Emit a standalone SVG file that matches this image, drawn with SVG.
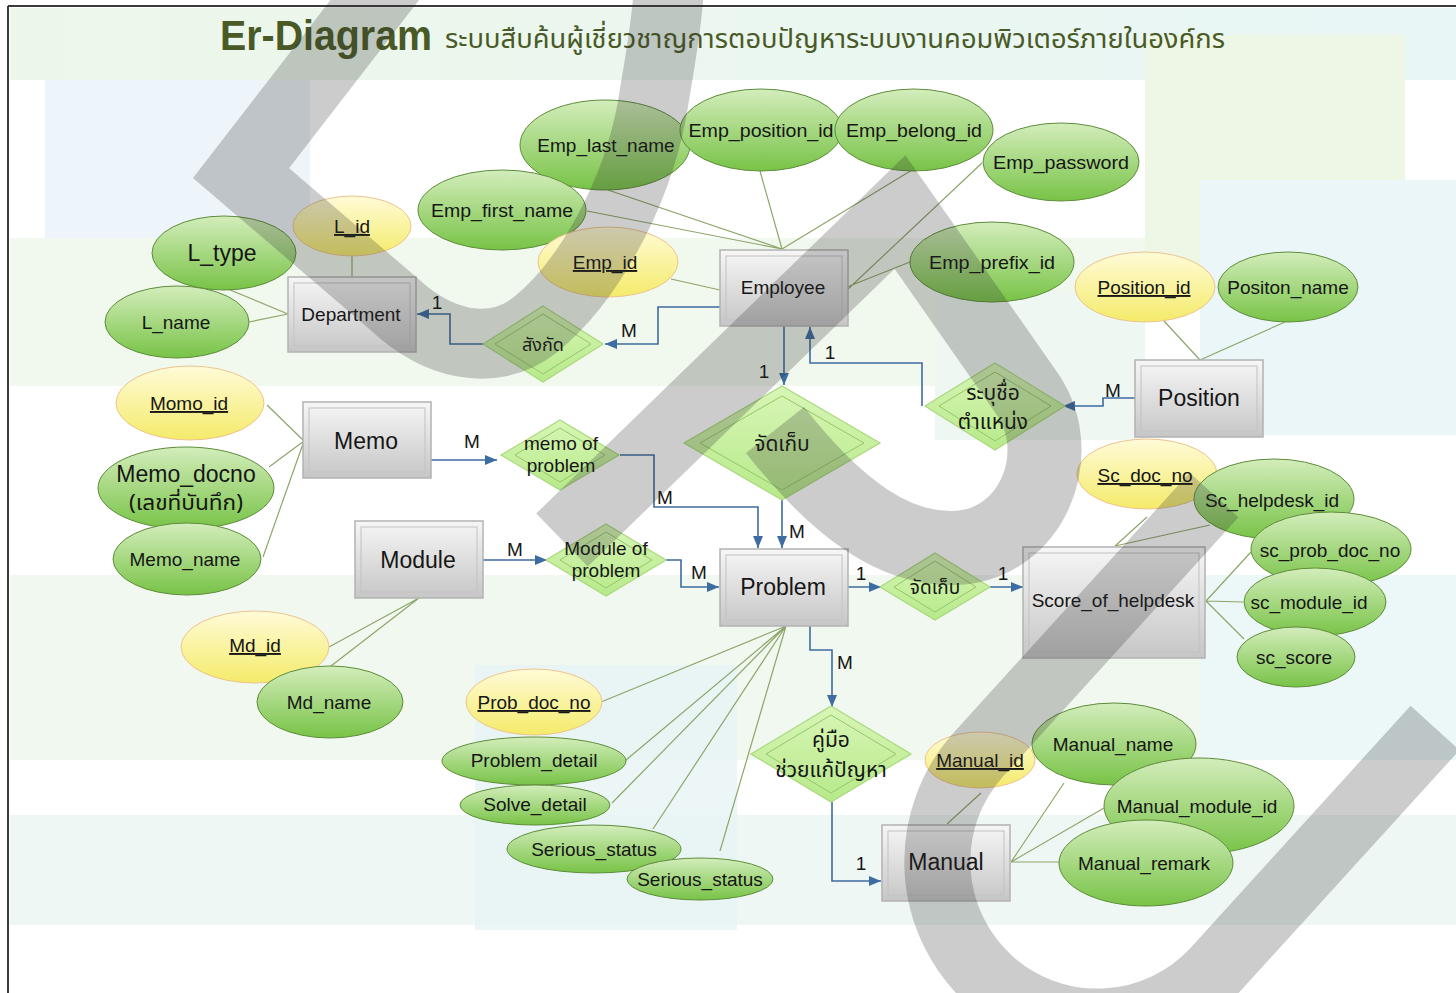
<svg xmlns="http://www.w3.org/2000/svg" width="1456" height="993" viewBox="0 0 1456 993">
  <defs>
    <linearGradient id="gEnt" x1="0" y1="0" x2="0" y2="1">
      <stop offset="0" stop-color="#f6f6f6"/>
      <stop offset="1" stop-color="#c6c6c6"/>
    </linearGradient>
    <linearGradient id="gAttr" x1="0" y1="0" x2="0" y2="1">
      <stop offset="0" stop-color="#d3edbb"/>
      <stop offset="1" stop-color="#78c347"/>
    </linearGradient>
    <linearGradient id="gKey" x1="0" y1="0" x2="0" y2="1">
      <stop offset="0" stop-color="#fffbd8"/>
      <stop offset="1" stop-color="#f4eb6a"/>
    </linearGradient>
    <linearGradient id="gRel" x1="0" y1="0" x2="0" y2="1">
      <stop offset="0" stop-color="#d8f6b6"/>
      <stop offset="1" stop-color="#b7e98a"/>
    </linearGradient>
    <linearGradient id="gTitle" x1="0" y1="0" x2="1" y2="0">
      <stop offset="0" stop-color="#edf7e9"/>
      <stop offset="1" stop-color="#e8f6f6"/>
    </linearGradient>
    <marker id="arr" viewBox="0 0 12 10" refX="12" refY="5" markerWidth="12" markerHeight="10" markerUnits="userSpaceOnUse" orient="auto">
      <path d="M0,0 L12,5 L0,10 z" fill="#3d6ca3"/>
    </marker>
  </defs>
  <style>
    .ent-o { fill: url(#gEnt); stroke: #b3b3b3; stroke-width: 1.5; }
    .ent-i { fill: none; stroke: #c2c2c2; stroke-width: 1; }
    .attr { fill: url(#gAttr); stroke: #5e8d3a; stroke-width: 1; }
    .key { fill: url(#gKey); stroke: #eec48c; stroke-width: 1; }
    .rel-o { fill: url(#gRel); stroke: #a9d97c; stroke-width: 1.2; }
    .rel-i { fill: none; stroke: #94c76a; stroke-width: 1; }
    .lnk { stroke: #8da66a; stroke-width: 1.2; fill: none; }
    .con { stroke: #3e6ba1; stroke-width: 1.6; fill: none; marker-end: url(#arr); }
    text { font-family: "Liberation Sans", Arial, sans-serif; fill: #161616; text-anchor: middle; font-size: 19px; }
    .th { font-family: "Noto Sans Thai", "Noto Sans", "DejaVu Sans", sans-serif; }
    .ts { text-anchor: start; fill: #4a5a26; }
    .t-head { font-size: 43px; font-weight: bold; }
    .t-sub { font-size: 27px; }
    .big { font-size: 23px; }
    .th18 { font-size: 18px; }
    .th21 { font-size: 21px; }
    .u { text-decoration: underline; }
    .card { font-size: 20px; }
    .bg { stroke: none; }
  </style>

  <!-- page background and faint panels -->
  <rect width="1456" height="993" fill="#ffffff"/>
  <g class="bg">
    <rect x="10" y="8" width="1446" height="72" fill="url(#gTitle)"/>
    <rect x="45" y="80" width="265" height="158" fill="#eef5fa"/>
    <rect x="1145" y="35" width="260" height="265" fill="#eef7e6"/>
    <rect x="1200" y="180" width="256" height="255" fill="#eaf6f8"/>
    <rect x="10" y="238" width="1135" height="148" fill="#f1f8ee"/>
    <rect x="935" y="290" width="210" height="150" fill="#eef7f2"/>
    <rect x="1200" y="575" width="256" height="185" fill="#ecf7f7"/>
    <rect x="10" y="575" width="1190" height="185" fill="#f0f8ef"/>
    <rect x="10" y="815" width="1446" height="110" fill="#eef7f3"/>
    <rect x="475" y="665" width="262" height="265" fill="#e7f4f5" opacity="0.8"/>
  </g>
  <path d="M8,6 H1456 M8,6 V993" stroke="#3a3a3a" stroke-width="2" fill="none"/>

  <!-- title -->
  <g id="title">
    <text class="ts t-head" x="220" y="50" textLength="212" lengthAdjust="spacingAndGlyphs">Er-Diagram</text>
    <text class="ts th t-sub" x="445" y="48" textLength="780" lengthAdjust="spacingAndGlyphs">ระบบสืบค้นผู้เชี่ยวชาญการตอบปัญหาระบบงานคอมพิวเตอร์ภายในองค์กร</text>
  </g>

  <!-- attribute links -->
  <g id="attribute-links" class="lnk">
    <path d="M352,256 V277"/>
    <path d="M223,287 L288,314 M249,322 L288,314"/>
    <path d="M608,190 L782,249 M587,211 L782,249 M760,171 L782,249 M912,170 L782,249"/>
    <path d="M982,163 L847,290 M910,262 L847,287 M671,279 L720,290"/>
    <path d="M1164,321 L1200,360 M1285,322 L1200,360"/>
    <path d="M267,405 L304,441 M269,467 L304,441 M263,557 L304,441"/>
    <path d="M329,647 L419,598 M331,666 L419,598"/>
    <path d="M601,702 L786,626 M626,760 L786,626 M612,803 L786,626 M653,829 L786,626 M720,851 L786,626"/>
    <path d="M1147,517 L1115,546 M1210,525 L1115,546"/>
    <path d="M1251,552 L1206,601 M1243,602 L1206,601 M1244,639 L1206,601"/>
    <path d="M981,793 L947,824 M1064,783 L1011,862 M1104,808 L1011,862 M1059,862 L1011,862"/>
  </g>

  <!-- relationship connectors -->
  <g id="connectors">
    <path class="con" d="M720,307 H658 V344 H605"/>
    <path class="con" d="M483,344 H450 V314 H417"/>
    <path class="con" d="M784,326 V385"/>
    <path class="con" d="M922,406 V363 H810 V327"/>
    <path class="con" d="M1135,398 H1103 V406 H1063"/>
    <path class="con" d="M431,460 H497"/>
    <path class="con" d="M620,455 H654 V507 H758 V548"/>
    <path class="con" d="M782,500 V548"/>
    <path class="con" d="M483,560 H547"/>
    <path class="con" d="M666,560 H681 V587 H719"/>
    <path class="con" d="M848,587 H881"/>
    <path class="con" d="M990,587 H1023"/>
    <path class="con" d="M810,626 V650 H832 V707"/>
    <path class="con" d="M832,802 V881 H881"/>
    <g class="card">
      <text x="629" y="337">M</text>
      <text x="437" y="309">1</text>
      <text x="764" y="378">1</text>
      <text x="830" y="359">1</text>
      <text x="1113" y="397">M</text>
      <text x="472" y="448">M</text>
      <text x="665" y="504">M</text>
      <text x="797" y="538">M</text>
      <text x="515" y="556">M</text>
      <text x="699" y="579">M</text>
      <text x="861" y="580">1</text>
      <text x="1003" y="580">1</text>
      <text x="845" y="669">M</text>
      <text x="861" y="870">1</text>
    </g>
  </g>

  <!-- entities -->
  <g id="department">
    <rect class="ent-o" x="288" y="277" width="128" height="75"/>
    <rect class="ent-i" x="294" y="283" width="116" height="63"/>
    <text x="351" y="321">Department</text>
  </g>
  <g id="employee">
    <rect class="ent-o" x="720" y="250" width="128" height="76"/>
    <rect class="ent-i" x="726" y="256" width="116" height="64"/>
    <text x="783" y="294">Employee</text>
  </g>
  <g id="position">
    <rect class="ent-o" x="1135" y="360" width="128" height="77"/>
    <rect class="ent-i" x="1141" y="366" width="116" height="65"/>
    <text class="big" x="1199" y="406">Position</text>
  </g>
  <g id="memo">
    <rect class="ent-o" x="303" y="402" width="128" height="76"/>
    <rect class="ent-i" x="309" y="408" width="116" height="64"/>
    <text class="big" x="366" y="449">Memo</text>
  </g>
  <g id="module">
    <rect class="ent-o" x="355" y="521" width="128" height="77"/>
    <rect class="ent-i" x="361" y="527" width="116" height="65"/>
    <text class="big" x="418" y="568">Module</text>
  </g>
  <g id="problem">
    <rect class="ent-o" x="720" y="549" width="128" height="77"/>
    <rect class="ent-i" x="726" y="555" width="116" height="65"/>
    <text class="big" x="783" y="595">Problem</text>
  </g>
  <g id="score-of-helpdesk">
    <rect class="ent-o" x="1023" y="547" width="182" height="111"/>
    <rect class="ent-i" x="1029" y="553" width="170" height="99"/>
    <text x="1113" y="607">Score_of_helpdesk</text>
  </g>
  <g id="manual">
    <rect class="ent-o" x="882" y="825" width="128" height="76"/>
    <rect class="ent-i" x="888" y="831" width="116" height="64"/>
    <text class="big" x="946" y="870">Manual</text>
  </g>

  <!-- relationships -->
  <g id="rel-sangkat">
    <polygon class="rel-o" points="543,306 603,344 543,382 483,344"/>
    <polygon class="rel-i" points="543,314 591,344 543,374 495,344"/>
    <text class="th th18" x="543" y="351">สังกัด</text>
  </g>
  <g id="rel-store-employee">
    <polygon class="rel-o" points="782,386 880,443 782,500 684,443"/>
    <polygon class="rel-i" points="782,396 864,443 782,490 700,443"/>
    <text class="th th21" x="782" y="451">จัดเก็บ</text>
  </g>
  <g id="rel-position-name">
    <polygon class="rel-o" points="995,363 1065,406 995,450 925,406"/>
    <polygon class="rel-i" points="995,372 1051,406 995,441 939,406"/>
    <text class="th th21" x="993" y="400">ระบุชื่อ</text>
    <text class="th th21" x="993" y="429">ตำแหน่ง</text>
  </g>
  <g id="rel-memo-problem">
    <polygon class="rel-o" points="560,420 619,455 560,490 501,455"/>
    <polygon class="rel-i" points="560,428 605,455 560,482 515,455"/>
    <text x="561" y="450">memo of</text>
    <text x="561" y="472">problem</text>
  </g>
  <g id="rel-module-problem">
    <polygon class="rel-o" points="606,524 666,560 606,596 546,560"/>
    <polygon class="rel-i" points="606,532 652,560 606,588 560,560"/>
    <text x="606" y="555">Module of</text>
    <text x="606" y="577">problem</text>
  </g>
  <g id="rel-store-score">
    <polygon class="rel-o" points="935,553 990,587 935,620 880,587"/>
    <polygon class="rel-i" points="935,561 976,587 935,612 894,587"/>
    <text class="th" x="935" y="594">จัดเก็บ</text>
  </g>
  <g id="rel-manual-help">
    <polygon class="rel-o" points="831,706 911,754 831,802 751,754"/>
    <polygon class="rel-i" points="831,715 896,754 831,793 766,754"/>
    <text class="th th21" x="831" y="747">คู่มือ</text>
    <text class="th th21" x="831" y="777">ช่วยแก้ปัญหา</text>
  </g>

  <!-- attributes -->
  <g id="attr-l-id"><ellipse class="key" cx="352" cy="226" rx="59" ry="30"/><text class="u" x="352" y="233">L_id</text></g>
  <g id="attr-l-type"><ellipse class="attr" cx="224" cy="253" rx="72" ry="37"/><text class="big" x="222" y="261">L_type</text></g>
  <g id="attr-l-name"><ellipse class="attr" cx="177" cy="322" rx="72" ry="36"/><text x="176" y="329">L_name</text></g>
  <g id="attr-emp-last-name"><ellipse class="attr" cx="605" cy="145" rx="85" ry="45"/><text x="606" y="152">Emp_last_name</text></g>
  <g id="attr-emp-position-id"><ellipse class="attr" cx="761" cy="130" rx="81" ry="41"/><text x="761" y="137" textLength="145" lengthAdjust="spacingAndGlyphs">Emp_position_id</text></g>
  <g id="attr-emp-belong-id"><ellipse class="attr" cx="914" cy="130" rx="79" ry="41"/><text x="914" y="137" textLength="136" lengthAdjust="spacingAndGlyphs">Emp_belong_id</text></g>
  <g id="attr-emp-password"><ellipse class="attr" cx="1061" cy="162" rx="78" ry="39"/><text x="1061" y="169" textLength="136" lengthAdjust="spacingAndGlyphs">Emp_password</text></g>
  <g id="attr-emp-first-name"><ellipse class="attr" cx="502" cy="210" rx="84" ry="40"/><text x="502" y="217" textLength="142" lengthAdjust="spacingAndGlyphs">Emp_first_name</text></g>
  <g id="attr-emp-id"><ellipse class="key" cx="608" cy="262" rx="70" ry="35"/><text class="u" x="605" y="269">Emp_id</text></g>
  <g id="attr-emp-prefix-id"><ellipse class="attr" cx="992" cy="262" rx="82" ry="40"/><text x="992" y="269" textLength="126" lengthAdjust="spacingAndGlyphs">Emp_prefix_id</text></g>
  <g id="attr-position-id"><ellipse class="key" cx="1145" cy="287" rx="70" ry="35"/><text class="u" x="1144" y="294">Position_id</text></g>
  <g id="attr-positon-name"><ellipse class="attr" cx="1288" cy="287" rx="70" ry="35"/><text x="1288" y="294">Positon_name</text></g>
  <g id="attr-momo-id"><ellipse class="key" cx="190" cy="403" rx="74" ry="37"/><text class="u" x="189" y="410">Momo_id</text></g>
  <g id="attr-memo-docno"><ellipse class="attr" cx="186" cy="488" rx="88" ry="41"/><text class="big" x="186" y="482">Memo_docno</text><text class="th th21" x="186" y="510" textLength="114" lengthAdjust="spacingAndGlyphs">(เลขที่บันทึก)</text></g>
  <g id="attr-memo-name"><ellipse class="attr" cx="187" cy="559" rx="74" ry="36"/><text x="185" y="566">Memo_name</text></g>
  <g id="attr-md-id"><ellipse class="key" cx="255" cy="647" rx="74" ry="36"/><text class="u" x="255" y="652">Md_id</text></g>
  <g id="attr-md-name"><ellipse class="attr" cx="330" cy="702" rx="73" ry="36"/><text x="329" y="709">Md_name</text></g>
  <g id="attr-prob-doc-no"><ellipse class="key" cx="534" cy="702" rx="68" ry="33"/><text class="u" x="534" y="709">Prob_doc_no</text></g>
  <g id="attr-problem-detail"><ellipse class="attr" cx="534" cy="761" rx="92" ry="24"/><text x="534" y="767">Problem_detail</text></g>
  <g id="attr-solve-detail"><ellipse class="attr" cx="535" cy="805" rx="75" ry="20"/><text x="535" y="811">Solve_detail</text></g>
  <g id="attr-serious-status-1"><ellipse class="attr" cx="594" cy="849" rx="87" ry="24"/><text x="594" y="856">Serious_status</text></g>
  <g id="attr-serious-status-2"><ellipse class="attr" cx="700" cy="879" rx="73" ry="21"/><text x="700" y="886">Serious_status</text></g>
  <g id="attr-sc-doc-no"><ellipse class="key" cx="1147" cy="474" rx="70" ry="35"/><text class="u" x="1145" y="482">Sc_doc_no</text></g>
  <g id="attr-sc-helpdesk-id"><ellipse class="attr" cx="1274" cy="499" rx="80" ry="40"/><text x="1272" y="507">Sc_helpdesk_id</text></g>
  <g id="attr-sc-prob-doc-no"><ellipse class="attr" cx="1331" cy="549" rx="80" ry="37"/><text x="1330" y="557">sc_prob_doc_no</text></g>
  <g id="attr-sc-module-id"><ellipse class="attr" cx="1315" cy="602" rx="71" ry="34"/><text x="1309" y="609">sc_module_id</text></g>
  <g id="attr-sc-score"><ellipse class="attr" cx="1296" cy="657" rx="59" ry="30"/><text x="1294" y="664">sc_score</text></g>
  <g id="attr-manual-id"><ellipse class="key" cx="980" cy="760" rx="55" ry="28"/><text class="u" x="980" y="767">Manual_id</text></g>
  <g id="attr-manual-name"><ellipse class="attr" cx="1114" cy="744" rx="82" ry="41"/><text x="1113" y="751">Manual_name</text></g>
  <g id="attr-manual-module-id"><ellipse class="attr" cx="1199" cy="806" rx="95" ry="48"/><text x="1197" y="813">Manual_module_id</text></g>
  <g id="attr-manual-remark"><ellipse class="attr" cx="1146" cy="863" rx="87" ry="43"/><text x="1144" y="870">Manual_remark</text></g>

  <!-- translucent grey watermark strokes over the whole sheet -->
  <g opacity="0.24" fill="none" stroke="#2e2e2e" stroke-linejoin="miter" stroke-miterlimit="10">
    <path stroke-width="70" d="M398,-30 L241,173 L395,305 C435,342 490,360 535,325 C585,285 635,200 652,110 C660,60 668,20 670,-30"/>
    <path stroke-width="74" d="M562,540 L900,212 L1028,395 C1068,455 1032,545 955,548 C895,550 838,510 775,430"/>
    <path stroke-width="66" d="M1214,495 L978,755 A160,160 0 0 0 1215,970 L1435,728"/>
  </g>
</svg>
